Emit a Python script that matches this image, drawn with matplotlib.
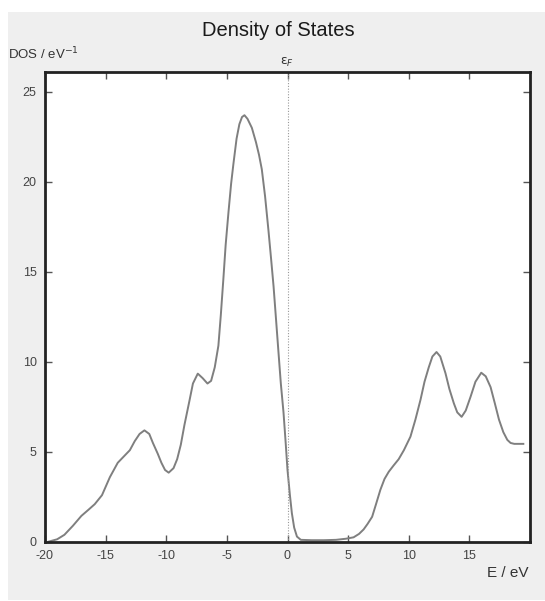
import matplotlib
matplotlib.use("Agg")
import matplotlib.pyplot as plt
from matplotlib.patches import Rectangle

# energy (eV) and density of states
energy = [-19.7, -19.0, -18.4, -17.7, -17.0, -16.4, -15.9, -15.3, -14.65, -14.0,
          -13.5, -13.0, -12.6, -12.2, -11.8, -11.4, -11.1, -10.7, -10.4, -10.1,
          -9.8, -9.4, -9.1, -8.8, -8.5, -8.1, -7.8, -7.4, -7.0, -6.6,
          -6.3, -6.0, -5.7, -5.5, -5.29, -5.1, -4.87, -4.65, -4.46, -4.2,
          -3.97, -3.75, -3.55, -3.3, -2.94, -2.6, -2.35, -2.12, -1.85, -1.57,
          -1.35, -1.15, -0.95, -0.74, -0.55, -0.33, -0.15, 0.0, 0.2, 0.36,
          0.55, 0.78, 1.1, 2.0, 3.0, 4.0, 4.8, 5.45, 5.9, 6.28,
          6.6, 6.98, 7.3, 7.66, 8.0, 8.35, 8.75, 9.17, 9.6, 10.14,
          10.55, 10.97, 11.3, 11.65, 11.95, 12.29, 12.6, 13.03, 13.35, 13.72,
          14.0, 14.36, 14.7, 15.1, 15.5, 15.98, 16.35, 16.75, 17.1, 17.44,
          17.8, 18.13, 18.4, 18.7, 19.45]
dos = [0.02, 0.15, 0.4, 0.9, 1.45, 1.8, 2.1, 2.6, 3.6, 4.4,
       4.75, 5.1, 5.6, 6.0, 6.2, 6.0, 5.5, 4.9, 4.4, 4.0,
       3.85, 4.1, 4.6, 5.4, 6.5, 7.8, 8.8, 9.35, 9.1, 8.8,
       8.95, 9.7, 10.9, 12.6, 14.6, 16.5, 18.3, 19.9, 21.0, 22.4,
       23.2, 23.6, 23.7, 23.5, 23.0, 22.2, 21.5, 20.7, 19.2, 17.3,
       15.7, 14.2, 12.4, 10.5, 8.8, 7.2, 5.5, 4.0, 2.6, 1.6,
       0.8, 0.3, 0.12, 0.1, 0.1, 0.12, 0.18, 0.26, 0.45, 0.7,
       1.0, 1.4, 2.1, 2.9, 3.5, 3.9, 4.25, 4.6, 5.1, 5.85,
       6.8, 7.9, 8.9, 9.7, 10.3, 10.55, 10.3, 9.37, 8.5, 7.7,
       7.2, 6.95, 7.3, 8.07, 8.9, 9.4, 9.2, 8.6, 7.7, 6.8,
       6.1, 5.67, 5.5, 5.45, 5.45]

xticks = [-20, -15, -10, -5, 0, 5, 10, 15]
yticks = [0, 5, 10, 15, 20, 25]
e_fermi = 0.0

plt.rcParams['font.family'] = ['Liberation Sans', 'DejaVu Sans']
plt.rcParams['axes.unicode_minus'] = False

fig = plt.figure(figsize=(5.45, 6.01), dpi=100)
fig.patch.set_facecolor('white')
# grey panel behind everything
fig.patches.append(Rectangle((8 / 545, 1 / 601), 1 - 8 / 545, 588 / 601,
                             transform=fig.transFigure, facecolor='#efefef',
                             edgecolor='none', zorder=-10))

ax = fig.add_axes([45 / 545, 59 / 601, 485 / 545, 470 / 601])
ax.set_facecolor('white')
ax.plot(energy, dos, color='#7f7f7f', lw=1.4, solid_joinstyle='round')
ax.axvline(e_fermi, color='#999999', lw=0.8, ls=(0, (1, 1.5)))

ax.set_xlim(-20, 20)
ax.set_ylim(0, 26.1)
ax.set_xticks(xticks)
ax.set_yticks(yticks)
ax.tick_params(direction='in', length=5, width=1, top=True, right=True,
               labelsize=9, labelcolor='#444444', color='#555555', pad=6)
for s in ax.spines.values():
    s.set_linewidth(2)
    s.set_color('#222222')

fig.text(278 / 545, 1 - 31 / 601, 'Density of States', ha='center', va='center',
         fontsize=14.5, color='#1a1a1a')
fig.text(8 / 545, 1 - 54 / 601, 'DOS / eV$^{-1}$', ha='left', va='center',
         fontsize=9.5, color='#333333')
fig.text(287 / 545, 1 - 62 / 601, r'$\mathrm{\epsilon}_F$', ha='center', va='center',
         fontsize=9, color='#333333')
fig.text(508 / 545, 1 - 573 / 601, 'E / eV', ha='center', va='center',
         fontsize=11, color='#333333')

fig.savefig('out.png', dpi=100)
